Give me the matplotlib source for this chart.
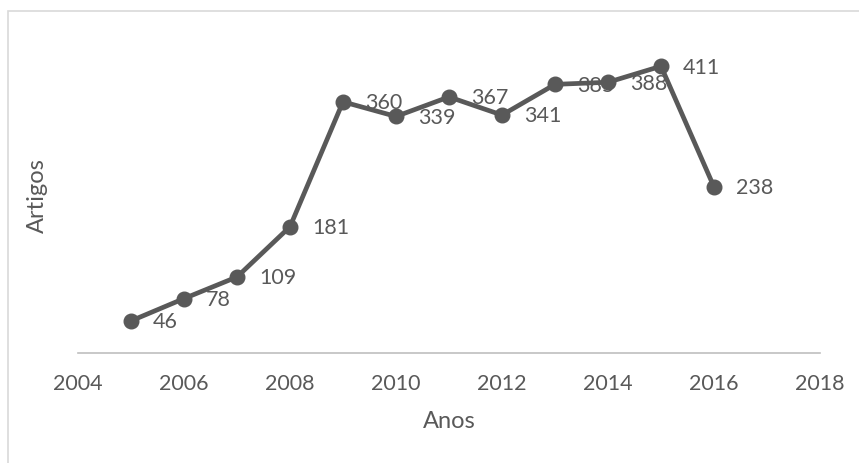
import matplotlib.pyplot as plt
from matplotlib.patches import Rectangle

anos = [2005, 2006, 2007, 2008, 2009, 2010, 2011, 2012, 2013, 2014, 2015, 2016]
artigos = [46, 78, 109, 181, 360, 339, 367, 341, 385, 388, 411, 238]
xticks = [2004, 2006, 2008, 2010, 2012, 2014, 2016, 2018]

cor = "#595959"
plt.rcParams["font.family"] = ["Lato", "DejaVu Sans"]

fig = plt.figure(figsize=(8.59, 4.63), dpi=100)
# moldura cinza clara do gráfico
fig.patches.append(Rectangle((8 / 859, -0.1), 1.1, 1.1 - 11 / 463, transform=fig.transFigure,
                             fill=False, edgecolor="#d9d9d9", linewidth=1.2))

ax = fig.add_axes([78 / 859, 1 - 353 / 463, (820 - 78) / 859, (353 - 39) / 463])
ax.plot(anos, artigos, color=cor, linewidth=3.4, marker="o", markersize=10.5,
        solid_capstyle="round", zorder=3)

# rótulos de valor à direita de cada ponto, por cima da linha
for x, y in zip(anos, artigos):
    ax.annotate(str(y), (x, y), xytext=(16, -1), textcoords="offset points",
                ha="left", va="center", fontsize=15.5, color=cor, zorder=5)

ax.set_xlim(2004, 2018)
ax.set_ylim(0, 450)
ax.set_xticks(xticks)
ax.set_yticks([])
for lado in ["top", "right", "left"]:
    ax.spines[lado].set_visible(False)
ax.spines["bottom"].set_color("#bfbfbf")
ax.spines["bottom"].set_linewidth(1.2)
ax.tick_params(axis="x", length=0, pad=15, labelsize=15.5, labelcolor=cor)
ax.set_xlabel("Anos", fontsize=17, color=cor, labelpad=12)
ax.set_ylabel("Artigos", fontsize=17, color=cor, labelpad=22)

fig.savefig("out.png", dpi=100)
